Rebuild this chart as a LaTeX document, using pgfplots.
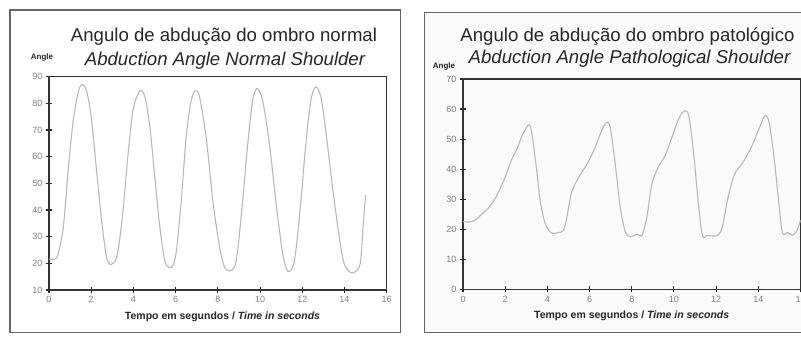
\documentclass[border=0pt]{standalone}
\usepackage{pgfplots}
\pgfplotsset{compat=1.18}
\usepackage{pgfplotstable}
\usepackage{fontspec}
\setmainfont{Liberation Sans}

\pgfplotstableread{
t v
0 21.6
0.28 21.6
0.44 23.7
0.68 33.7
0.91 55
1.15 73.7
1.39 84.4
1.57 87.1
1.78 84.8
2.02 73.7
2.25 55
2.49 36.2
2.72 22.5
2.88 19.6
3.0 19.8
3.12 20.6
3.28 25
3.51 40
3.75 61.2
3.98 77.5
4.3 84.6
4.54 82.5
4.78 71.2
5.01 52.5
5.25 33.7
5.48 21.2
5.69 18.4
5.88 19.4
6.04 25
6.27 43.7
6.5 67.5
6.74 81.2
6.94 84.7
7.13 82.5
7.45 67
7.76 43.7
8.08 26.2
8.31 18.7
8.55 17.2
8.79 18.7
8.94 25
9.18 43.7
9.42 65
9.65 81.2
9.86 85.6
10.12 81.2
10.44 65
10.76 42.5
11.07 23.7
11.31 17.1
11.55 18.7
11.7 25
11.94 43.7
12.17 65
12.41 81.2
12.64 86.2
12.88 82.5
13.11 70
13.43 48.7
13.75 30
13.98 20
14.3 16.5
14.61 17.5
14.77 21.2
14.88 33.7
15.0 45.6
}\normaldata

\pgfplotstableread{
t v
0 22.5
0.47 22.6
0.94 25.3
1.26 27.5
1.58 30.9
1.98 37
2.3 43.1
2.54 46.4
2.82 51.4
3.14 54.8
3.3 50.3
3.49 39.8
3.65 29.8
3.89 22
4.2 18.7
4.52 18.9
4.75 19.5
4.9 23.1
5.14 32
5.46 37
5.86 41.4
6.25 47
6.49 51.4
6.76 55.3
6.97 54.2
7.21 42
7.45 27.5
7.69 19.2
7.93 17.5
8.25 18.4
8.49 18
8.72 24.2
8.96 35.3
9.28 40.9
9.6 44.8
9.92 50.9
10.24 57
10.51 59.4
10.71 57.5
10.95 44.2
11.14 29.8
11.35 17.9
11.59 17.9
12.06 17.9
12.3 20.9
12.54 29.8
12.86 38.1
13.25 42
13.65 47
14.05 53.7
14.32 57.8
14.52 55.3
14.76 43.1
14.99 27.5
15.15 18.7
15.39 18.9
15.63 18
15.84 19.7
16.0 23
}\pathdata

\definecolor{curvegray}{gray}{0.72}
\definecolor{ticklab}{gray}{0.5}
\definecolor{framegray}{gray}{0.4}

\pgfplotsset{
  shoulder/.style={
    scale only axis,
    anchor=south west,
    xmin=0, xmax=16,
    xtick={0,2,...,16},
    xtick pos=left, ytick pos=left,
    tick align=center,
    major tick length=6pt,
    every tick/.style={black!85, line width=1.1pt},
    axis line style={black!80, line width=1.3pt},
    tick label style={font=\fontsize{9}{10}\selectfont, text=ticklab},
    /pgf/number format/assume math mode=true,
  },
  curve/.style={curvegray, line width=1.1pt, smooth, tension=0.5, no marks},
}

\begin{document}
\begin{tikzpicture}[x=1pt,y=1pt]
\useasboundingbox (0,0) rectangle (801,339);
\clip (0,0) rectangle (801,339);
\draw[framegray, line width=1.2pt] (10,329) rectangle (400.7,6.3);
\filldraw[fill=black!2, draw=framegray, line width=1.2pt] (424.3,326.3) rectangle (840,6.7);

% left panel
\node[anchor=base, font=\fontsize{18.6}{20}\selectfont, text=black!85] at (224,297.3) {Angulo de abdução do ombro normal};
\node[anchor=base, font=\fontsize{18.6}{20}\selectfont\itshape, text=black!85] at (225,273) {Abduction Angle Normal Shoulder};
\node[font=\fontsize{8}{9}\selectfont\bfseries, text=black!85] at (42,281.7) {Angle};
\begin{axis}[shoulder, at={(49pt,49pt)}, width=337.7pt, height=213.3pt,
  ymin=10, ymax=90, ytick={10,20,...,90}]
\addplot[curve] table[x=t,y=v] {\normaldata};
\end{axis}
\node[font=\fontsize{10.5}{12}\selectfont\bfseries, text=black!85] at (222.5,22.3) {Tempo em segundos / \textit{Time in seconds}};
\node[font=\fontsize{11}{12}\selectfont, text=black!85] at (153,-6) {(a)};

% right panel
\node[anchor=base, font=\fontsize{18.6}{20}\selectfont, text=black!85] at (627.5,297) {Angulo de abdução do ombro patológico};
\node[anchor=base, font=\fontsize{18.6}{20}\selectfont\itshape, text=black!85] at (629.5,275.5) {Abduction Angle Pathological Shoulder};
\node[font=\fontsize{8}{9}\selectfont\bfseries, text=black!85] at (444,272.3) {Angle};
\begin{axis}[shoulder, at={(463pt,49.7pt)}, width=337.5pt, height=210.3pt,
  ymin=0, ymax=70, ytick={0,10,...,70}]
\addplot[curve] table[x=t,y=v] {\pathdata};
\end{axis}
\node[font=\fontsize{10.5}{12}\selectfont\bfseries, text=black!85] at (631.7,23.3) {Tempo em segundos / \textit{Time in seconds}};
\node[font=\fontsize{11}{12}\selectfont, text=black!85] at (553,-6) {(b)};
\end{tikzpicture}
\end{document}
